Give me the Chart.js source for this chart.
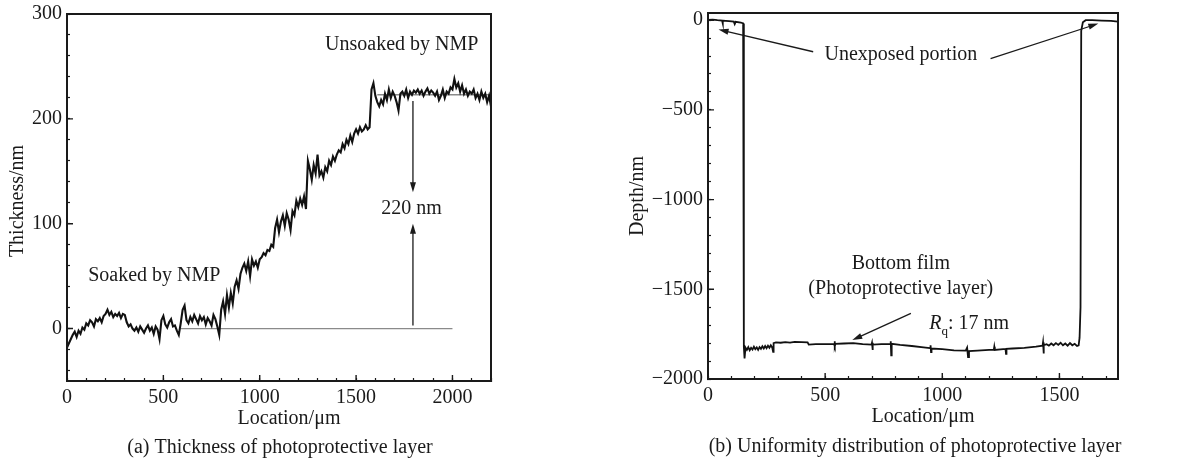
<!DOCTYPE html>
<html>
<head>
<meta charset="utf-8">
<script src="https://cdn.jsdelivr.net/npm/chart.js@4.4.1/dist/chart.umd.min.js"></script>
<style>
  html, body { margin: 0; padding: 0; background: #fff; }
  #wrap { position: relative; width: 1179px; height: 463px; overflow: hidden; }
  #chartA { position: absolute; left: 0; top: 0; }
  #chartB { position: absolute; left: 580px; top: 0; }
</style>
</head>
<body>
<div id="wrap">
  <canvas id="chartA" width="560" height="463"></canvas>
  <canvas id="chartB" width="599" height="463"></canvas>
</div>
<script>
// ── (a) thickness profile, one sample every 10 µm from 0 to 2200 µm ──
const sampleStepA = 10;
const thicknessA = [
  -18, -14, -10, -6, -3, -8, -2, -5, 1, -1, 5,
  3, 8, 6, 2, 9, 7, 10, 6, 12, 14,
  18, 13, 16, 11, 14, 12, 15, 10, 14, 13,
  6, 2, 4, 0, -2, 1, -3, 2, -1, -4,
  0, 3, -2, 1, -5, 2, -1, -10, 8, 12,
  4, 1, 6, 9, 2, 3, -2, -6, 5, 18,
  22, 8, 5, 11, 7, 13, 9, 5, 12, 8,
  11, 4, 10, 7, 3, 13, 9, 2, -6, 18,
  26, 14, 32, 20, 34, 24, 40, 46, 38, 52,
  58, 62, 55, 64, 50, 66, 60, 64, 58, 66,
  68, 72, 70, 75, 74, 80, 78, 96, 104, 92,
  102, 108, 98, 110, 104, 94, 112, 108, 122, 116,
  124, 118, 126, 114, 160, 152, 142, 156, 148, 166,
  146, 150, 144, 154, 150, 160, 156, 164, 160, 166,
  170, 168, 176, 172, 180, 176, 184, 178, 186, 190,
  186, 192, 188, 190, 194, 190, 192, 228, 234, 222,
  216, 212, 218, 214, 224, 218, 228, 220, 226, 222,
  216, 208, 224, 226, 222, 228, 220, 226, 223, 227,
  225, 228, 224, 227, 222, 226, 229, 224, 227, 225,
  222, 226, 218, 222, 228, 220, 226, 224, 230, 228,
  238, 230, 234, 226, 232, 224, 228, 222, 226, 224,
  228, 220, 224, 218, 226, 220, 224, 216, 222, 212
];
const locationA = thicknessA.map((_, i) => i * sampleStepA);

// grey reference levels in (a)
const baseSpanA     = [590, 2000];
const baseLevelA    = 0;
const plateauSpanA  = [1610, 2200];
const plateauLevelA = 223;

// ── (b) depth profile ──
const locationB = [
  0, 20, 40, 60, 62, 64, 90, 110, 114, 118, 140, 150,
  153, 156, 160, 166, 172, 178, 184, 190, 196, 202, 208, 214,
  220, 226, 232, 238, 244, 250, 256, 262, 268, 274, 278, 280,
  290, 310, 330, 350, 370, 400, 425, 430, 460, 500,
  538, 540, 542, 544, 580, 620, 660, 698, 700, 702, 704,
  740, 778, 780, 782, 784, 820, 870, 920, 948, 950, 952, 954,
  1000, 1050, 1100, 1106, 1110, 1114, 1150, 1200, 1220, 1222, 1224,
  1260, 1270, 1272, 1274, 1300, 1350, 1400, 1428, 1430, 1432, 1434,
  1445, 1455, 1465, 1475, 1485, 1495, 1505, 1515, 1525, 1535,
  1545, 1555, 1565, 1575, 1582, 1586, 1590, 1593, 1600, 1612,
  1640, 1680, 1720, 1750
];
const depthB = [
  2, 3, 0, -2, -18, -3, -5, -8, -22, -9, -13, -18,
  -1820, -1885, -1825, -1838, -1822, -1840, -1826, -1836, -1820, -1834, -1824, -1838,
  -1822, -1832, -1818, -1830, -1816, -1828, -1814, -1826, -1812, -1824, -1848, -1800,
  -1796, -1798, -1794, -1797, -1793, -1795, -1796, -1808, -1806, -1806,
  -1804, -1790, -1818, -1804, -1802, -1800, -1806, -1808, -1798, -1838, -1808,
  -1806, -1806, -1790, -1868, -1804, -1810, -1816, -1824, -1828, -1812, -1850, -1830,
  -1834, -1840, -1842, -1825, -1878, -1844, -1842, -1838, -1836, -1820, -1838,
  -1834, -1834, -1860, -1832, -1830, -1826, -1820, -1814, -1796, -1858, -1812,
  -1806, -1814, -1802, -1812, -1800, -1810, -1798, -1812, -1802, -1814,
  -1800, -1812, -1804, -1816, -1812, -1770, -1600, -60, -12, 0,
  0, -2, -4, -8
];

const FONT = '"Liberation Serif", "Times New Roman", serif';
const INK  = '#1a1a1a';
const GREY = '#8a8a8a';

Chart.defaults.font.family = FONT;
Chart.defaults.font.size = 20;
Chart.defaults.color = INK;

// ── Arrow helper ─────────────────────────
function drawArrow(ctx, x1, y1, x2, y2) {
  const ang = Math.atan2(y2 - y1, x2 - x1);
  const len = 10, half = 3;
  const c = Math.cos(ang), s = Math.sin(ang);
  ctx.beginPath();
  ctx.moveTo(x1, y1);
  ctx.lineTo(x2 - c * len * 0.7, y2 - s * len * 0.7);
  ctx.stroke();
  ctx.beginPath();
  ctx.moveTo(x2, y2);
  ctx.lineTo(x2 - len * c + half * s, y2 - len * s - half * c);
  ctx.lineTo(x2 - len * c - half * s, y2 - len * s + half * c);
  ctx.closePath();
  ctx.fill();
}

// ── Frame, major ticks, annotations, titles ──
const notesPlugin = {
  id: 'notes',
  afterDraw(chart, args, opts) {
    const { ctx, chartArea: a } = chart;
    const x = chart.scales.x, y = chart.scales.y;
    ctx.save();
    ctx.strokeStyle = INK;
    ctx.fillStyle = INK;
    ctx.lineWidth = 2;
    ctx.strokeRect(a.left, a.top, a.right - a.left, a.bottom - a.top);

    // longer marks on labelled ticks
    ctx.lineWidth = 1.4;
    ctx.beginPath();
    x.ticks.forEach(t => {
      if (Math.round(t.value) % opts.majorX !== 0) return;
      const px = x.getPixelForValue(t.value);
      ctx.moveTo(px, a.bottom); ctx.lineTo(px, a.bottom - 6);
    });
    y.ticks.forEach(t => {
      if (Math.round(t.value) % opts.majorY !== 0) return;
      const py = y.getPixelForValue(t.value);
      ctx.moveTo(a.left, py); ctx.lineTo(a.left + 6, py);
    });
    ctx.stroke();

    ctx.lineWidth = 1.3;
    (opts.arrows || []).forEach(ar => drawArrow(ctx,
      x.getPixelForValue(ar.from[0]), y.getPixelForValue(ar.from[1]),
      x.getPixelForValue(ar.to[0]),   y.getPixelForValue(ar.to[1])));

    ctx.font = '20px ' + FONT;
    ctx.textAlign = 'center';
    ctx.textBaseline = 'middle';
    (opts.labels || []).forEach(l =>
      ctx.fillText(l.text, x.getPixelForValue(l.at[0]), y.getPixelForValue(l.at[1])));

    if (opts.rq) {
      let px = x.getPixelForValue(opts.rq[0]);
      const py = y.getPixelForValue(opts.rq[1]);
      ctx.textAlign = 'left';
      ctx.font = 'italic 20px ' + FONT;
      ctx.fillText('R', px, py);
      px += ctx.measureText('R').width;
      ctx.font = '13px ' + FONT;
      ctx.fillText('q', px, py + 8);
      px += ctx.measureText('q').width;
      ctx.font = '20px ' + FONT;
      ctx.fillText(': 17 nm', px, py);
    }

    // axis titles and caption (canvas pixels)
    ctx.textAlign = 'center';
    ctx.font = '20px ' + FONT;
    ctx.fillText(opts.xTitle.text, opts.xTitle.at[0], opts.xTitle.at[1]);
    ctx.fillText(opts.caption.text, opts.caption.at[0], opts.caption.at[1]);
    ctx.save();
    ctx.translate(opts.yTitle.at[0], opts.yTitle.at[1]);
    ctx.rotate(-Math.PI / 2);
    ctx.fillText(opts.yTitle.text, 0, 0);
    ctx.restore();
    ctx.restore();
  }
};

// ── Shared axis builder ──────────────────
function axis({ min, max, step, major, size, vertical }) {
  return {
    type: 'linear', min, max,
    afterFit: s => {
      if (vertical) { s.width = size; s.paddingTop = 0; s.paddingBottom = 0; }
      else { s.height = size; s.paddingLeft = 0; s.paddingRight = 0; }
    },
    ticks: {
      stepSize: step, autoSkip: false, maxRotation: 0, includeBounds: false,
      padding: 8, color: INK, font: { size: 20 },
      callback: v => (Math.round(v) % major === 0)
        ? (v < 0 ? '\u2212' + Math.abs(Math.round(v)) : String(Math.round(v)))
        : ''
    },
    grid: { drawOnChartArea: false, tickLength: -3, color: INK, tickWidth: 1.2 },
    border: { display: true, color: INK, width: 2 }
  };
}

function baseOptions(padding) {
  return {
    responsive: false,
    animation: false,
    layout: { padding },
    plugins: { legend: { display: false }, tooltip: { enabled: false } },
    elements: { point: { radius: 0 }, line: { tension: 0 } }
  };
}

// ── (a) Thickness ────────────────────────
const optsA = baseOptions({ top: 14, right: 69, left: 0, bottom: 0 });
optsA.scales = {
  x: axis({ min: 0, max: 2200, step: 100, major: 500, size: 82 }),
  y: axis({ min: -50, max: 300, step: 20, major: 100, size: 67, vertical: true })
};
optsA.plugins.notes = {
  majorX: 500, majorY: 100,
  labels: [
    { text: 'Unsoaked by NMP', at: [1737, 271] },
    { text: 'Soaked by NMP', at: [453, 50] },
    { text: '220 nm', at: [1788, 114] }
  ],
  arrows: [
    { from: [1795, 217], to: [1795, 130] },
    { from: [1795, 3], to: [1795, 100] }
  ],
  xTitle: { text: 'Location/\u03bcm', at: [289, 419] },
  yTitle: { text: 'Thickness/nm', at: [18, 201] },
  caption: { text: '(a) Thickness of photoprotective layer', at: [280, 448] }
};

new Chart(document.getElementById('chartA'), {
  type: 'line',
  data: {
    datasets: [
      {
        data: locationA.map((x, i) => ({ x, y: thicknessA[i] })),
        borderColor: '#111', borderWidth: 2.1
      },
      {
        data: baseSpanA.map(x => ({ x, y: baseLevelA })),
        borderColor: GREY, borderWidth: 1.3
      },
      {
        data: plateauSpanA.map(x => ({ x, y: plateauLevelA })),
        borderColor: GREY, borderWidth: 1.3
      }
    ]
  },
  options: optsA,
  plugins: [notesPlugin]
});

// ── (b) Depth ────────────────────────────
const optsB = baseOptions({ top: 13, right: 61, left: 0, bottom: 0 });
optsB.scales = {
  x: axis({ min: 0, max: 1750, step: 100, major: 500, size: 84 }),
  y: axis({ min: -2000, max: 40, step: 100, major: 500, size: 128, vertical: true })
};
optsB.plugins.notes = {
  majorX: 500, majorY: 500,
  labels: [
    { text: 'Unexposed portion', at: [823, -195] },
    { text: 'Bottom film', at: [823, -1356] },
    { text: '(Photoprotective layer)', at: [823, -1495] }
  ],
  rq: [944, -1690],
  arrows: [
    { from: [449, -176], to: [45, -52] },
    { from: [1206, -214], to: [1666, -19] },
    { from: [866, -1634], to: [616, -1783] }
  ],
  xTitle: { text: 'Location/\u03bcm', at: [343, 417] },
  yTitle: { text: 'Depth/nm', at: [58, 196] },
  caption: { text: '(b) Uniformity distribution of photoprotective layer', at: [335, 447] }
};

new Chart(document.getElementById('chartB'), {
  type: 'line',
  data: {
    datasets: [{
      data: locationB.map((x, i) => ({ x, y: depthB[i] })),
      borderColor: '#111', borderWidth: 1.8
    }]
  },
  options: optsB,
  plugins: [notesPlugin]
});
</script>
</body>
</html>
